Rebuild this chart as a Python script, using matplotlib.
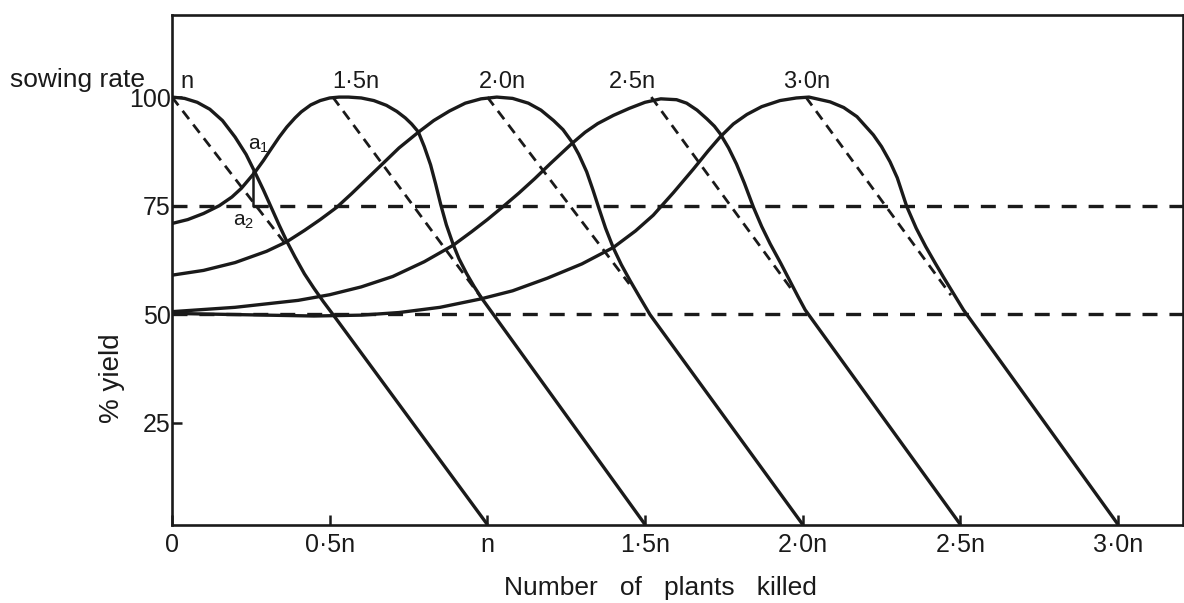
import matplotlib
matplotlib.use("Agg")
import matplotlib.pyplot as plt

plt.rcParams['font.family'] = ['Liberation Sans', 'DejaVu Sans']
plt.rcParams['mathtext.fontset'] = 'custom'
plt.rcParams['mathtext.rm'] = 'Liberation Sans'
plt.rcParams['mathtext.it'] = 'Liberation Sans'
plt.rcParams['lines.scale_dashes'] = False

# ---------------- data ----------------
sowing_labels = ["n", "1·5n", "2·0n", "2·5n", "3·0n"]
sowing_rates = [1.0, 1.5, 2.0, 2.5, 3.0]

# sowing rate n
x_n = [0, 0.04, 0.08, 0.12, 0.16, 0.20, 0.235, 0.263, 0.29, 0.311, 0.34, 0.364,
       0.39, 0.42, 0.45, 0.48, 0.512, 1.0]
y_n = [100, 99.7, 98.8, 97.2, 94.6, 90.8, 86.8, 82.7, 78.6, 75.2, 70.5, 66.8,
       63.2, 59.3, 56.0, 52.9, 49.8, 1.6]

# sowing rate 1.5n
x_15 = [0, 0.05, 0.10, 0.15, 0.19, 0.22, 0.263, 0.29, 0.311, 0.34, 0.364, 0.39,
        0.41, 0.44, 0.47, 0.50, 0.53, 0.56, 0.60, 0.64, 0.68, 0.713, 0.74, 0.76,
        0.781, 0.80, 0.82, 0.836, 0.852, 0.87, 0.892, 0.91, 0.934, 0.958, 0.982, 1.5]
y_15 = [70.9, 71.8, 73.2, 75.0, 77.0, 79.0, 82.7, 85.4, 87.7, 90.8, 93.1, 95.2,
        96.6, 98.2, 99.2, 99.8, 100, 100, 99.8, 99.2, 98.1, 96.7, 95.2, 93.8,
        92.0, 88.6, 84.4, 80.0, 75.3, 70.6, 66.0, 62.8, 59.4, 56.4, 53.7, 1.6]

# sowing rate 2.0n
x_20 = [0, 0.1, 0.2, 0.3, 0.364, 0.42, 0.47, 0.522, 0.57, 0.62, 0.67, 0.72, 0.781,
        0.83, 0.88, 0.93, 0.98, 1.03, 1.08, 1.13, 1.17, 1.21, 1.24, 1.268, 1.29,
        1.315, 1.335, 1.352, 1.375, 1.40, 1.425, 1.453, 1.485, 1.516, 2.0]
y_20 = [59.0, 60.1, 61.9, 64.5, 66.7, 69.3, 71.8, 74.6, 77.8, 81.3, 84.8, 88.3, 91.9,
        94.6, 96.8, 98.6, 99.6, 100, 99.7, 98.6, 97.0, 94.6, 92.5, 89.7, 86.8,
        82.8, 78.6, 74.8, 69.8, 65.2, 61.4, 57.7, 53.7, 49.9, 1.6]

# sowing rate 2.5n
x_25 = [0, 0.2, 0.4, 0.5, 0.6, 0.7, 0.8, 0.892, 0.95, 1.0, 1.05, 1.10, 1.15, 1.20,
        1.268, 1.31, 1.35, 1.40, 1.45, 1.50, 1.55, 1.60, 1.632, 1.665, 1.696, 1.72,
        1.738, 1.765, 1.79, 1.815, 1.844, 1.87, 1.897, 1.93, 1.96, 1.985, 2.008, 2.5]
y_25 = [50.6, 51.6, 53.2, 54.5, 56.3, 58.7, 62.1, 65.9, 69.0, 71.8, 74.8, 77.9, 81.2, 84.7,
        89.3, 91.9, 93.9, 95.8, 97.4, 98.8, 99.6, 99.4, 98.6, 97.0, 95.0, 93.3,
        91.6, 88.3, 84.6, 80.2, 74.6, 70.2, 66.2, 61.8, 57.6, 54.1, 51.0, 1.6]

# sowing rate 3.0n
x_30 = [0, 0.15, 0.3, 0.45, 0.6, 0.72, 0.85, 0.977, 1.08, 1.19, 1.30, 1.40, 1.47,
        1.526, 1.59, 1.653, 1.70, 1.738, 1.78, 1.823, 1.87, 1.928, 1.98, 2.02,
        2.087, 2.13, 2.172, 2.224, 2.25, 2.277, 2.30, 2.33, 2.36, 2.39, 2.42,
        2.446, 2.478, 2.51, 3.0]
y_30 = [50.2, 50.0, 49.8, 49.6, 49.8, 50.4, 51.6, 53.5, 55.4, 58.3, 61.6, 65.4, 69.2,
        72.8, 78.0, 83.4, 87.6, 90.8, 93.8, 96.0, 97.8, 99.2, 99.8, 100,
        98.9, 97.6, 95.5, 91.3, 88.6, 85.1, 81.4, 74.8, 69.8, 65.6, 61.8,
        58.6, 54.8, 51.0, 1.6]

curves_x = [x_n, x_15, x_20, x_25, x_30]
curves_y = [y_n, y_15, y_20, y_25, y_30]

# dashed straight-line losses from each peak
dash_start_x = [0.0, 0.51, 1.00, 1.52, 2.01]
dash_start_y = [100, 100, 100, 100, 100]
dash_end_x = [0.364, 0.982, 1.45, 1.97, 2.47]
dash_end_y = [65.8, 53.7, 57.0, 55.2, 54.4]

threshold_levels = [75, 50]

# a1 / a2 construction
a_x = 0.258
a1_y = 82.7
a2_y = 75.0
a2_end_x = 0.30

xtick_values = [0, 0.5, 1.0, 1.5, 2.0, 2.5, 3.0]
xtick_labels = ["0", "0·5n", "n", "1·5n", "2·0n", "2·5n", "3·0n"]
ytick_values = [25, 50, 75, 100]
ytick_labels = ["25", "50", "75", "100"]

curve_label_x = [0.047, 0.584, 1.047, 1.459, 2.011]
curve_label_y = 102.0

# ---------------- figure ----------------
ink = '#1a1a1a'
fig = plt.figure(figsize=(11.84, 6.03), dpi=100)
ax = fig.add_axes([172/1184, 1 - 524.5/603, (1183 - 172)/1184, (524.5 - 15)/603])
ax.set_xlim(0, 3.206)
ax.set_ylim(1.6, 118.9)

for xs, ys in zip(curves_x, curves_y):
    ax.plot(xs, ys, color=ink, lw=2.4, solid_capstyle='butt',
            solid_joinstyle='round', zorder=3)

for x0, y0, x1, y1 in zip(dash_start_x, dash_start_y, dash_end_x, dash_end_y):
    ax.plot([x0, x1], [y0, y1], color=ink, lw=2.0, dashes=(7.5, 5.0), zorder=2)

for lev in threshold_levels:
    ax.axhline(lev, color=ink, lw=2.4, dashes=(10.8, 8.6), zorder=2)

# a1-a2 construction
ax.plot([a_x, a_x, a2_end_x], [a1_y, a2_y, a2_y], color=ink, lw=1.8, zorder=3)
ax.text(0.241, 87.8, r'$\mathregular{a_1}$', fontsize=15, ha='left', va='baseline', color=ink)
ax.text(0.193, 70.5, r'$\mathregular{a_2}$', fontsize=15, ha='left', va='baseline', color=ink)

for lx, lab in zip(curve_label_x, sowing_labels):
    ax.text(lx, curve_label_y, lab, fontsize=17, ha='center', va='baseline', color=ink)

ax.set_xticks(xtick_values)
ax.set_xticklabels(xtick_labels)
ax.set_yticks(ytick_values)
ax.set_yticklabels(ytick_labels)
ax.tick_params(axis='both', direction='in', length=7, width=1.8, labelsize=18,
               colors=ink)
ax.tick_params(axis='x', pad=6)
ax.tick_params(axis='y', pad=1)

for sp in ax.spines.values():
    sp.set_linewidth(1.9)
    sp.set_color(ink)

ax.text(-0.0593, 0.2875, '% yield', rotation=90, transform=ax.transAxes,
        ha='center', va='center', fontsize=20, color=ink)
fig.text(10/1184, 1 - 87/603, 'sowing rate', ha='left', va='baseline',
         fontsize=19, color=ink)
fig.text(660/1184, 1 - 588/603, 'Number   of   plants   killed', ha='center', va='center',
         fontsize=19, color=ink)

fig.savefig('out.png', dpi=100, facecolor='white')
